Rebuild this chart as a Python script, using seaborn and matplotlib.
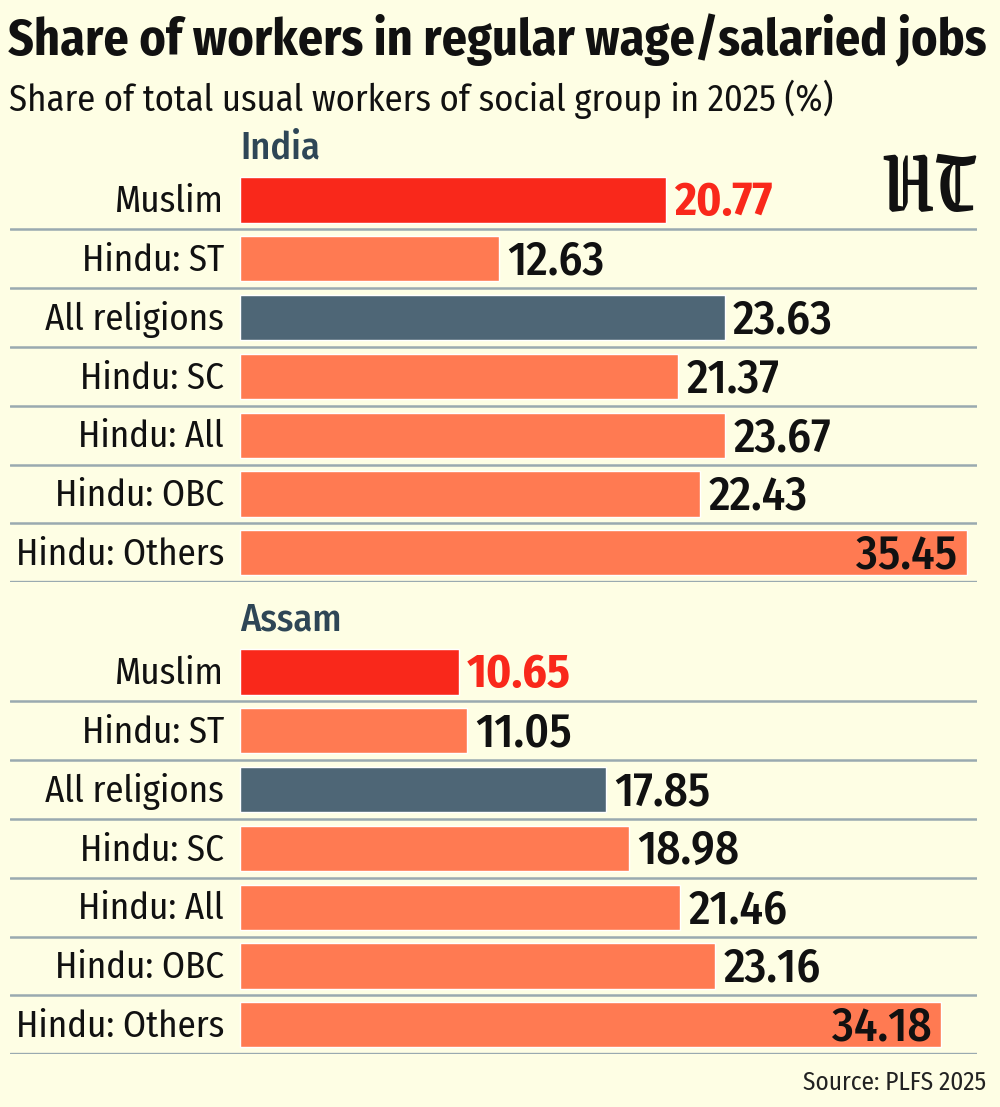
import matplotlib
matplotlib.use("Agg")
import matplotlib.pyplot as plt
import pandas as pd
import seaborn as sns

# data (%)
categories = ["Muslim", "Hindu: ST", "All religions", "Hindu: SC",
              "Hindu: All", "Hindu: OBC", "Hindu: Others"]
kinds = ["muslim", "hindu", "all", "hindu", "hindu", "hindu", "hindu"]
india_values = [20.77, 12.63, 23.63, 21.37, 23.67, 22.43, 35.45]
assam_values = [10.65, 11.05, 17.85, 18.98, 21.46, 23.16, 34.18]

bg = "#FEFEE4"
palette = {"muslim": "#F9281B", "hindu": "#FF7A52", "all": "#4E6676"}
line_col = "#9AAAB0"
head_col = "#2E4656"

sns.set_theme(style="white")
plt.rcParams["font.family"] = ["Fira Sans Condensed", "DejaVu Sans"]

fig = plt.figure(figsize=(10, 11.07), dpi=100)
fig.patch.set_facecolor(bg)

H = 1107.0
xmin, xmax = -11.25, 35.95


def panel(values, top_px, name):
    row = 58.8
    top = top_px - row / 2
    bottom = top_px + row * 6.5
    ax = fig.add_axes([0.01, 1 - bottom / H, 0.967, (bottom - top) / H])
    ax.set_facecolor(bg)
    df = pd.DataFrame({"category": categories, "value": values, "kind": kinds})
    sns.barplot(data=df, y="category", x="value", hue="kind", palette=palette,
                order=categories, dodge=False, width=0.77, legend=False,
                saturation=1, ax=ax)
    ax.set_xlim(xmin, xmax)
    ax.set_ylim(6.5, -0.5)
    for s in ax.spines.values():
        s.set_visible(False)
    ax.set_xticks([])
    ax.set_yticks([])
    ax.set_xlabel("")
    ax.set_ylabel("")
    for i in range(len(categories)):
        ax.axhline(i + 0.5, color=line_col, lw=2.4 if i == 6 else 1.8, zorder=0)
    for i, (cat, v, k) in enumerate(zip(categories, values, kinds)):
        ax.text(-0.8, i + 0.03, cat, ha="right", va="center", fontsize=26.5, color="#111111")
        if i == len(categories) - 1:
            ax.text(v - 0.45, i + 0.05, f"{v:.2f}", ha="right", va="center",
                    fontsize=34, fontweight="medium", color="#111111")
        else:
            ax.text(v + 0.4, i + 0.05, f"{v:.2f}", ha="left", va="center",
                    fontsize=34, fontweight="bold" if k == "muslim" else "medium",
                    color=palette["muslim"] if k == "muslim" else "#111111")
    fig.text(240 / 1000, 1 - (top_px - 52) / H, name, ha="left", va="center",
             fontsize=27.5, fontweight="medium", color=head_col)
    return ax


panel(india_values, 200, "India")
panel(assam_values, 672, "Assam")

fig.text(0.008, 1 - 40 / H, "Share of workers in regular wage/salaried jobs",
         ha="left", va="center", fontsize=36, fontweight="bold", color="#111111")
fig.text(0.009, 1 - 99 / H, "Share of total usual workers of social group in 2025 (%)",
         ha="left", va="center", fontsize=26.3, color="#111111")
fig.text(0.976, 1 - 190 / H, "HT", ha="right", va="center", fontsize=66,
         family=["Grenze Gotisch", "DejaVu Serif"], fontweight="bold", color="#111111")
fig.text(0.986, 1 - 1083 / H, "Source: PLFS 2025", ha="right", va="center",
         fontsize=18.2, color="#222222")

fig.savefig("out.png", dpi=100, facecolor=bg)
